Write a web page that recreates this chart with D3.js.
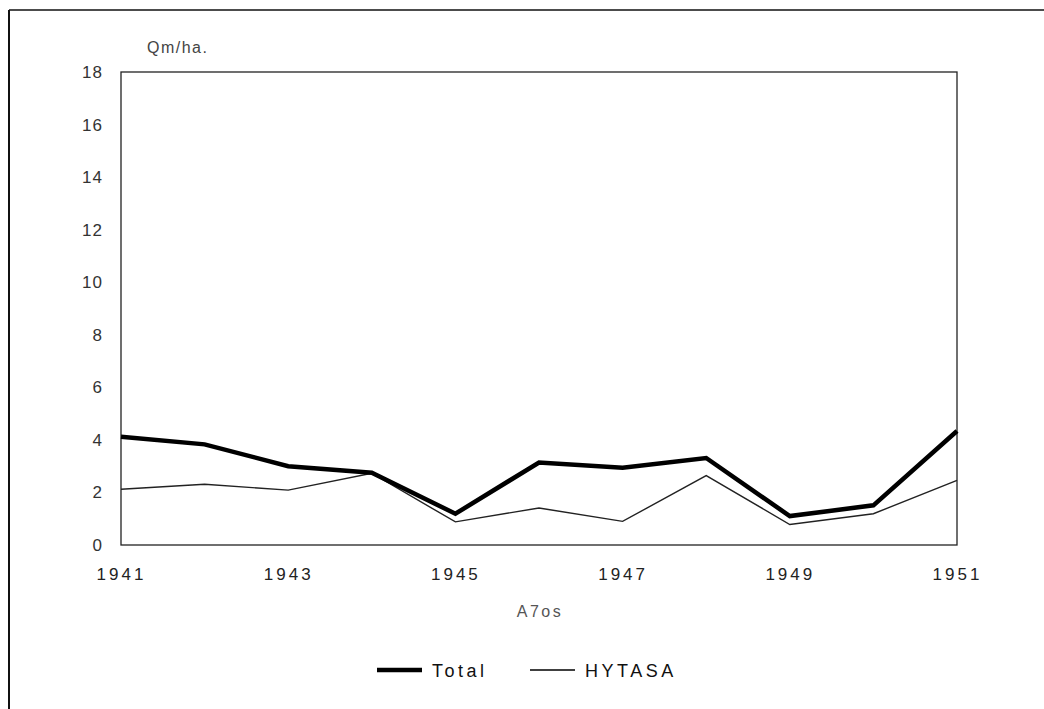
<!DOCTYPE html>
<html><head><meta charset="utf-8">
<script src="https://cdn.jsdelivr.net/npm/d3@7"></script>
<style>
body{margin:0;background:#fff;}
text{font-family:"Liberation Sans",Arial,sans-serif;}
</style></head>
<body><svg id="c" width="1044" height="709"></svg>
<script>
const years = [1941,1942,1943,1944,1945,1946,1947,1948,1949,1950,1951];
const xTickLabels = [1941,1943,1945,1947,1949,1951];
const yTicks = [0,2,4,6,8,10,12,14,16,18];
const totalValues = [4.12,3.83,3.0,2.75,1.19,3.14,2.94,3.31,1.10,1.51,4.34];
const hytasaValues = [2.12,2.31,2.09,2.73,0.88,1.41,0.90,2.64,0.78,1.19,2.46];
const seriesNames = ["Total","HYTASA"];
const yTitle = "Qm/ha.";
const xTitle = "A7os";

const svg = d3.select("#c");
const L=121,R=957,T=72,B=545;
const x = d3.scaleLinear().domain([1941,1951]).range([L,R]);
const y = d3.scaleLinear().domain([0,18]).range([B,T]);

// outer frame
svg.append("line").attr("x1",9).attr("x2",1044).attr("y1",10).attr("y2",10).attr("stroke","#111").attr("stroke-width",1.5);
svg.append("line").attr("x1",9).attr("x2",9).attr("y1",10).attr("y2",709).attr("stroke","#111").attr("stroke-width",2);

// plot box
svg.append("rect").attr("x",L).attr("y",T).attr("width",R-L).attr("height",B-T)
  .attr("fill","none").attr("stroke","#222").attr("stroke-width",1.3);

const gy = svg.append("g").attr("transform",`translate(${L},0)`)
  .call(d3.axisLeft(y).tickValues(yTicks).tickSize(0).tickPadding(18));
gy.select(".domain").remove();
gy.selectAll("text").attr("font-size",17).attr("fill","#333").attr("letter-spacing","1px");

const gx = svg.append("g").attr("transform",`translate(0,${B})`)
  .call(d3.axisBottom(x).tickValues(xTickLabels).tickFormat(d3.format("d")).tickSize(0).tickPadding(23));
gx.select(".domain").remove();
gx.selectAll("text").attr("font-size",17).attr("fill","#222").attr("letter-spacing","3px");

svg.append("text").attr("x",147).attr("y",53).attr("font-size",16).attr("fill","#444").attr("letter-spacing","1.5px").text(yTitle);
svg.append("text").attr("x",540).attr("y",617).attr("text-anchor","middle").attr("font-size",16).attr("fill","#555").attr("letter-spacing","2.5px").text(xTitle);

const line = d3.line().x((d,i)=>x(years[i])).y(d=>y(d));
svg.append("path").datum(hytasaValues).attr("d",line).attr("fill","none").attr("stroke","#222").attr("stroke-width",1.4);
svg.append("path").datum(totalValues).attr("d",line).attr("fill","none").attr("stroke","#000").attr("stroke-width",4.5).attr("stroke-linejoin","miter");

// legend
const lg = [{name:seriesNames[0],w:4.5,x:377},{name:seriesNames[1],w:1.4,x:530}];
lg.forEach(d=>{
  svg.append("line").attr("x1",d.x).attr("x2",d.x+45).attr("y1",670).attr("y2",670).attr("stroke","#000").attr("stroke-width",d.w);
  svg.append("text").attr("x",d.x+55).attr("y",677).attr("font-size",18).attr("fill","#111").attr("letter-spacing","3.5px").text(d.name);
});
</script></body></html>
